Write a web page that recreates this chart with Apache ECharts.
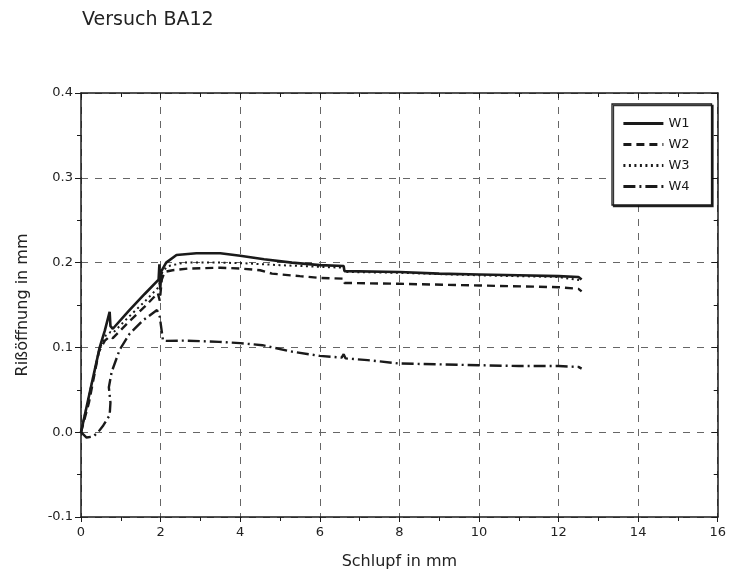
<!DOCTYPE html>
<html><head><meta charset="utf-8">
<script src="https://cdn.jsdelivr.net/npm/echarts@6/dist/echarts.min.js"></script>
<style>html,body{margin:0;padding:0;background:#fff}#c{width:729px;height:575px}</style>
</head><body><div id="c"></div>
<script>
const title = "Versuch BA12";
const xName = "Schlupf in mm";
const yName = "Rißöffnung in mm";
const seriesNames = ["W1", "W2", "W3", "W4"];

const w1X = [0,0.47,0.6,0.72,0.74,0.8,1.2,1.6,1.95,1.97,1.99,2.02,2.14,2.4,2.9,3.5,4,4.6,5.3,6,6.6,6.62,8,9,10,11,12,12.5,12.58];
const w1Y = [0,0.1,0.12,0.142,0.125,0.122,0.143,0.163,0.18,0.198,0.168,0.19,0.2,0.209,0.211,0.211,0.208,0.204,0.2,0.197,0.196,0.19,0.189,0.187,0.186,0.185,0.184,0.183,0.18];

const w2X = [0,0.2,0.45,0.6,0.72,0.8,1.2,1.6,1.93,1.98,2.03,2.1,2.3,2.7,3.5,4,4.5,4.8,5.5,6,6.6,6.62,8,10,12,12.5,12.58];
const w2Y = [0,0.035,0.095,0.108,0.113,0.111,0.13,0.148,0.164,0.155,0.18,0.189,0.191,0.193,0.194,0.193,0.191,0.187,0.184,0.182,0.181,0.176,0.175,0.173,0.171,0.169,0.166];

const w3X = [0,0.46,0.62,0.74,0.8,1.2,1.6,1.95,2.05,2.2,2.6,3.5,4.2,5,6,6.6,6.62,8,10,12,12.58];
const w3Y = [0,0.098,0.114,0.118,0.117,0.136,0.154,0.171,0.19,0.196,0.2,0.2,0.199,0.197,0.195,0.194,0.189,0.188,0.185,0.183,0.179];

const w4X = [0,0.14,0.31,0.43,0.56,0.72,0.74,0.7,0.77,0.97,1.22,1.56,1.91,1.98,2.06,2.14,2.64,3.47,4,4.56,5.3,6,6.55,6.6,6.65,7.2,8,9,10,11,12,12.5,12.58];
const w4Y = [0,-0.0063,-0.005,0,0.008,0.02,0.035,0.053,0.071,0.097,0.116,0.132,0.144,0.136,0.108,0.1077,0.108,0.1065,0.105,0.1026,0.095,0.09,0.088,0.092,0.087,0.085,0.081,0.08,0.079,0.078,0.078,0.077,0.075];

const xTicks = [0,2,4,6,8,10,12,14,16];
const yTicks = [-0.1,0.0,0.1,0.2,0.3,0.4];

const zip = (xs, ys) => xs.map((x, i) => [x, ys[i]]);
const allX = [w1X, w2X, w3X, w4X];
const allY = [w1Y, w2Y, w3Y, w4Y];
const dashes = ['solid', [8, 5], [2, 3.5], [12, 4, 2, 4]];
const widths = [2.6, 2.4, 2.0, 2.4];

const font = "'DejaVu Sans', sans-serif";
const ink = '#1a1a1a';
const chart = echarts.init(document.getElementById('c'), null, {renderer: 'canvas'});

const baseX = {
  type: 'value', min: xTicks[0], max: xTicks[xTicks.length - 1], interval: 2,
  axisLine: {show: true, onZero: false, lineStyle: {color: ink, width: 1.5}},
};
const baseY = {
  type: 'value', min: yTicks[0], max: yTicks[yTicks.length - 1], interval: 0.1,
  axisLine: {show: true, onZero: false, lineStyle: {color: ink, width: 1.5}},
};

chart.setOption({
  animation: false,
  backgroundColor: '#fff',
  title: {text: title, left: 82, top: 11, padding: 0,
    textStyle: {fontFamily: font, fontSize: 19, fontWeight: 'normal', color: '#222'}},
  grid: {left: 81, right: 8, top: 93, bottom: 58, containLabel: false},
  legend: {
    data: seriesNames, orient: 'vertical', left: 612, top: 104,
    padding: [13, 22, 12, 10], itemGap: 8, itemWidth: 40, itemHeight: 13,
    backgroundColor: '#fff', borderColor: ink, borderWidth: 1.3,
    shadowColor: 'rgba(0,0,0,0.8)', shadowOffsetX: 1.5, shadowOffsetY: 1.5, shadowBlur: 0,
    itemStyle: {opacity: 0},
    lineStyle: {width: 2.8},
    textStyle: {fontFamily: font, fontSize: 13, color: ink}
  },
  xAxis: [
    Object.assign({}, baseX, {
      position: 'bottom',
      name: xName, nameLocation: 'middle', nameGap: 37,
      nameTextStyle: {fontFamily: font, fontSize: 16, color: '#222'},
      axisTick: {show: true, length: 5, lineStyle: {color: ink}},
      minorTick: {show: true, splitNumber: 2, length: 4, lineStyle: {color: ink}},
      axisLabel: {fontFamily: font, fontSize: 13, color: '#222', margin: 9},
      splitLine: {show: true, lineStyle: {color: '#666', type: [7, 7], width: 1}}
    }),
    Object.assign({}, baseX, {
      position: 'top',
      axisTick: {show: true, inside: true, length: 5, lineStyle: {color: ink}},
      minorTick: {show: true, splitNumber: 2, length: 4, lineStyle: {color: ink}},
      axisLabel: {show: false}, splitLine: {show: false}
    })
  ],
  yAxis: [
    Object.assign({}, baseY, {
      position: 'left',
      name: yName, nameLocation: 'middle', nameGap: 50,
      nameTextStyle: {fontFamily: font, fontSize: 16, color: '#222'},
      axisTick: {show: true, length: 6, lineStyle: {color: ink}},
      minorTick: {show: true, splitNumber: 2, length: 4, lineStyle: {color: ink}},
      axisLabel: {fontFamily: font, fontSize: 13, color: '#222', margin: 8,
        formatter: v => v.toFixed(1)},
      splitLine: {show: true, lineStyle: {color: '#666', type: [7, 7], width: 1}}
    }),
    Object.assign({}, baseY, {
      position: 'right',
      axisTick: {show: true, inside: true, length: 6, lineStyle: {color: ink}},
      minorTick: {show: true, splitNumber: 2, length: 4, lineStyle: {color: ink}},
      axisLabel: {show: false}, splitLine: {show: false}
    })
  ],
  series: seriesNames.map((n, i) => ({
    name: n, type: 'line', xAxisIndex: 0, yAxisIndex: 0,
    data: zip(allX[i], allY[i]), symbol: 'none', smooth: false,
    lineStyle: {color: ink, width: widths[i], type: dashes[i]},
    itemStyle: {color: ink}, z: 10 - i
  }))
});
</script></body></html>
